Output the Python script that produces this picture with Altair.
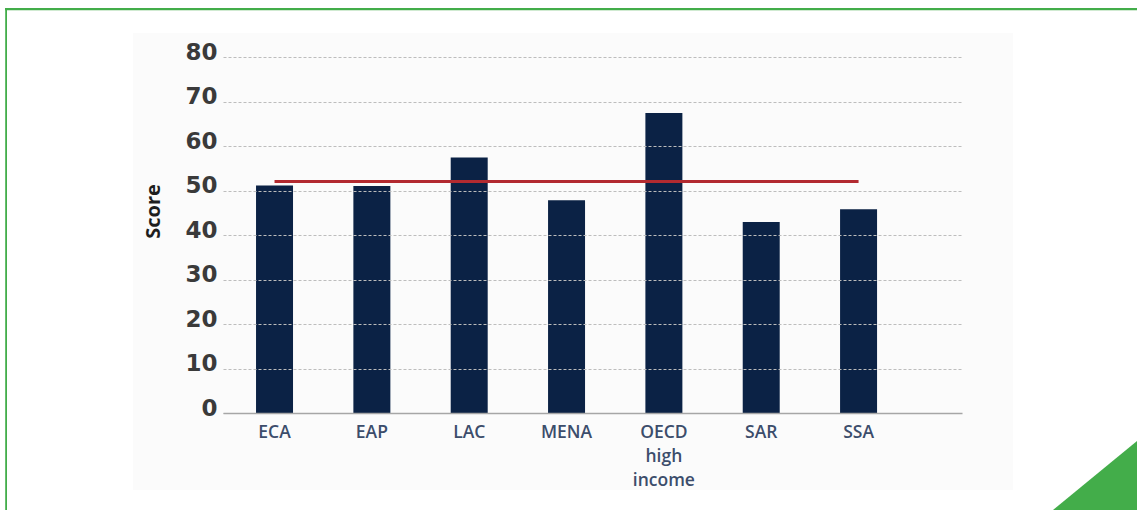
import altair as alt
import pandas as pd

# Average score by region, with the overall reference level
regions = ["ECA", "EAP", "LAC", "MENA", "OECD high income", "SAR", "SSA"]
scores = [51.1, 51.0, 57.4, 47.8, 67.4, 42.9, 45.8]
reference_score = 52
y_ticks = [0, 10, 20, 30, 40, 50, 60, 70, 80]

# Plot-area geometry inside the 1137 x 510 canvas
W, H = 739, 356
PAD_L, PAD_T = 223, 57
PAD_R, PAD_B = 1137 - PAD_L - W, 510 - PAD_T - H

FONT = "Open Sans"
NAVY = "#0b2245"
RED = "#b22a30"
GREEN = "#43ad4a"

bars_df = pd.DataFrame({"region": regions, "score": scores})
ref_df = pd.DataFrame({"region": regions, "score": [reference_score] * len(regions)})
one = pd.DataFrame({"d": [0]})

x_enc = alt.X(
    "region:N",
    sort=regions,
    scale=alt.Scale(domain=regions, paddingInner=0.62, paddingOuter=0.606, align=0.28),
    axis=alt.Axis(
        title=None,
        labelAngle=0,
        labelExpr="split(datum.value, ' ')",
        labelFont=FONT,
        labelFontSize=17.5,
        labelFontWeight=600,
        labelColor="#3c4d6b",
        labelPadding=10,
        labelBaseline="top",
        labelLineHeight=24,
        ticks=False,
        grid=False,
        domainColor="#a6a6a6",
        domainWidth=1.5,
        zindex=1,
    ),
)

y_enc = alt.Y(
    "score:Q",
    scale=alt.Scale(domain=[0, 80], nice=False),
    axis=alt.Axis(
        values=y_ticks,
        title="Score",
        titleFont=FONT,
        titleFontSize=20,
        titleFontWeight="bold",
        titleColor="#1e1e1e",
        titleAngle=270,
        titleX=153 - PAD_L,
        titleY=211 - PAD_T,
        titleAlign="center",
        titleBaseline="middle",
        labelFont="DejaVu Sans",
        labelFontSize=23,
        labelFontWeight="bold",
        labelColor="#3a3a3a",
        labelPadding=6,
        labelOffset=-5,
        ticks=False,
        domain=False,
        grid=True,
        gridColor="#bdbdbd",
        gridDash=[3, 2],
        gridWidth=1,
        zindex=1,
    ),
)

# Faint panel behind the figure
panel = alt.Chart(one).mark_rect(color="#fbfbfb").encode(
    x=alt.value(133 - PAD_L), x2=alt.value(1013 - PAD_L),
    y=alt.value(33 - PAD_T), y2=alt.value(490 - PAD_T),
)

# Green frame: top and left edges
frame_top = alt.Chart(one).mark_rect(color=GREEN).encode(
    x=alt.value(5 - PAD_L), x2=alt.value(1137 - PAD_L),
    y=alt.value(8 - PAD_T), y2=alt.value(10.3 - PAD_T),
)
frame_left = alt.Chart(one).mark_rect(color=GREEN).encode(
    x=alt.value(5.2 - PAD_L), x2=alt.value(7 - PAD_L),
    y=alt.value(8 - PAD_T), y2=alt.value(510 - PAD_T),
)

# Green corner triangle, bottom right
corner = alt.Chart(one).mark_point(
    shape="M 1 -0.64 L 1 1 L -1 1 Z", filled=True, opacity=1, size=84 * 84,
    color=GREEN, strokeWidth=0,
).encode(x=alt.value(1095 - PAD_L), y=alt.value(468 - PAD_T))

bars = alt.Chart(bars_df).mark_bar(color=NAVY).encode(x=x_enc, y=y_enc)

ref_line = alt.Chart(ref_df).mark_line(color=RED, strokeWidth=3).encode(
    x=alt.X("region:N", sort=regions), y="score:Q"
)

chart = (
    alt.layer(panel, frame_top, frame_left, corner, bars, ref_line)
    .properties(
        width=W,
        height=H,
        padding={"left": PAD_L, "top": PAD_T, "right": PAD_R, "bottom": PAD_B},
        autosize=alt.AutoSizeParams(type="none"),
        background="white",
    )
    .configure_view(stroke=None)
)

chart.save("out.html", embed_options={"renderer": "svg", "actions": False})
